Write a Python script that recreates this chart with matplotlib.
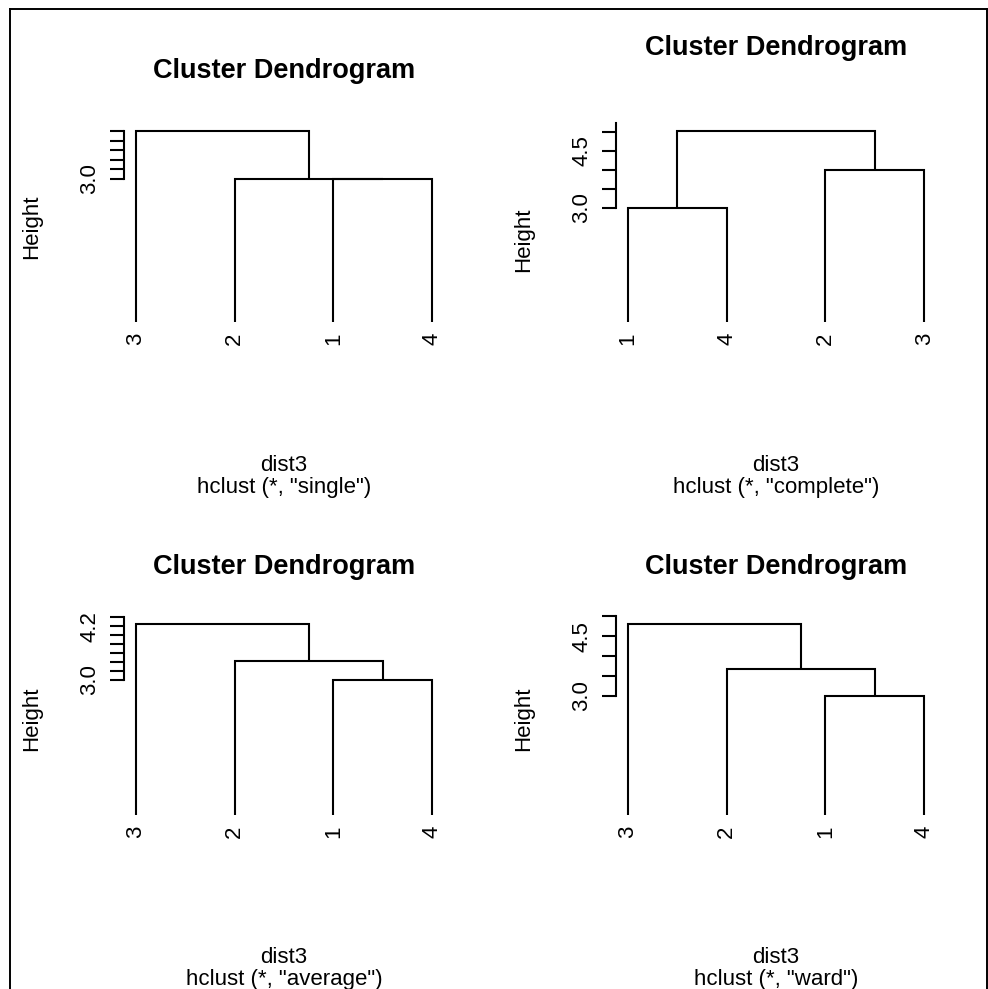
import matplotlib.pyplot as plt
from matplotlib.lines import Line2D

plt.rcParams['font.family'] = ['Liberation Sans', 'DejaVu Sans']

W, H = 988, 989

# hclust-style merge tables: negative = observation, positive = earlier merge
single_merge = [(-1, -4), (-2, 1), (-3, 2)]
single_height = [3.0, 3.0, 4.0]
single_order = [3, 2, 1, 4]

complete_merge = [(-1, -4), (-2, -3), (1, 2)]
complete_height = [3.0, 4.0, 5.02]
complete_order = [1, 4, 2, 3]

average_merge = [(-1, -4), (-2, 1), (-3, 2)]
average_height = [3.0, 3.43, 4.25]
average_order = [3, 2, 1, 4]

ward_merge = [(-1, -4), (-2, 1), (-3, 2)]
ward_height = [3.0, 3.67, 4.81]
ward_order = [3, 2, 1, 4]

# axis ticks (pretty values) and which of them get a label
single_ticks = [3.0, 3.2, 3.4, 3.6, 3.8, 4.0]
single_shown = ["3.0"]
complete_ticks = [3.0, 3.5, 4.0, 4.5, 5.0, 5.5]
complete_shown = ["3.0", "4.5"]
average_ticks = [3.0, 3.2, 3.4, 3.6, 3.8, 4.0, 4.2, 4.4]
average_shown = ["3.0", "4.2"]
ward_ticks = [3.0, 3.5, 4.0, 4.5, 5.0]
ward_shown = ["3.0", "4.5"]

methods = ["single", "complete", "average", "ward"]


def px_axes(fig, left, top, width, height):
    return fig.add_axes([left / W, 1 - (top + height) / H, width / W, height / H])


def draw_dendro(ax, merge, height, order):
    pos = {leaf: i + 1 for i, leaf in enumerate(order)}
    nodes = []
    for (a, b), h in zip(merge, height):
        pts = []
        for c in (a, b):
            if c < 0:
                pts.append((pos[-c], 0.0))
            else:
                pts.append(nodes[c - 1])
        (x1, y1), (x2, y2) = pts
        ax.plot([x1, x1, x2, x2], [y1, h, h, y2], color='black', lw=1.5,
                solid_joinstyle='miter', solid_capstyle='butt')
        nodes.append(((x1 + x2) / 2, h))
    for leaf in order:
        ax.annotate(str(leaf), (pos[leaf], 0), xytext=(0, -8), textcoords='offset points',
                    rotation=90, ha='center', va='top', fontsize=16)


fig = plt.figure(figsize=(W / 100, H / 100), dpi=100)

panels = [
    (single_merge, single_height, single_order, single_ticks, single_shown, 124, 123.4, 1.255, 0.5),
    (complete_merge, complete_height, complete_order, complete_ticks, complete_shown, 616, 123.4, 1.365, 0.434),
    (average_merge, average_height, average_order, average_ticks, average_shown, 124, 616.2, 1.240, 0.5),
    (ward_merge, ward_height, ward_order, ward_ticks, ward_shown, 616, 616.2, 1.240, 0.5),
]

for (merge, height, order, ticks, shown, left, top, title_y, ylab_y), method in zip(panels, methods):
    ax = px_axes(fig, left, top, 320, 206)
    hmax = max(height)
    draw_dendro(ax, merge, height, order)
    for s in ['top', 'right', 'bottom']:
        ax.spines[s].set_visible(False)
    ax.set_xticks([])
    ax.set_yticks(ticks)
    ax.set_yticklabels([f"{t:.1f}" if f"{t:.1f}" in shown else "" for t in ticks])
    # limits after the ticks, so ticks beyond the plot region drop out
    ax.set_xlim(0.88, 4.12)
    ax.set_ylim(-0.04 * hmax, 1.04 * hmax)
    ax.spines['left'].set_linewidth(1.5)
    ax.spines['left'].set_bounds(ticks[0], min(ticks[-1], 1.04 * hmax))
    ax.tick_params(axis='y', length=10, width=1.5, labelsize=16, labelrotation=90, pad=7)
    for lab in ax.get_yticklabels():
        lab.set_va('center')
    ax.text(-0.2875, ylab_y, "Height", transform=ax.transAxes, rotation=90,
            ha='center', va='center', fontsize=16)
    ax.text(0.5, title_y, "Cluster Dendrogram", transform=ax.transAxes, ha='center',
            va='center', fontsize=19.5, fontweight='bold')
    ax.text(0.5, -0.659, "dist3", transform=ax.transAxes, ha='center', va='center', fontsize=16)
    ax.text(0.5, -0.766, f'hclust (*, "{method}")', transform=ax.transAxes, ha='center',
            va='center', fontsize=16)

# frame around the device region
x0, y0, x1 = 9.5 / W, 1 - 8.5 / H, 986.5 / W
fig.add_artist(Line2D([x0, x0], [0, y0], color='black', lw=1.4))
fig.add_artist(Line2D([x0, x1], [y0, y0], color='black', lw=1.4))
fig.add_artist(Line2D([x1, x1], [0, y0], color='black', lw=1.4))

fig.savefig("out.png", dpi=100)
